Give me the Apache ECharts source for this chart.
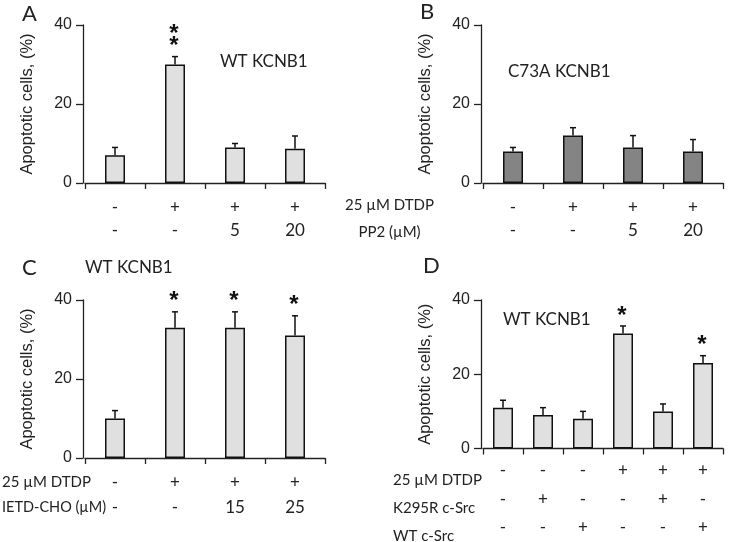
<!DOCTYPE html>
<html>
<head>
<meta charset="utf-8">
<script src="https://cdn.jsdelivr.net/npm/echarts@6/dist/echarts.min.js"></script>
<style>
  html, body { margin: 0; padding: 0; background: #fff; }
  #chart { width: 745px; height: 542px; }
</style>
</head>
<body>
<div id="chart"></div>
<script>
// values (mean, upper error, significance marks)
const aVal = [7, 30, 9, 8.7];
const aErr = [2, 2, 1, 3.2];
const aStars = ['', '**', '', ''];

const bVal = [8, 12, 9, 8];
const bErr = [1, 2, 3, 3];
const bStars = ['', '', '', ''];

const cVal = [10, 33, 33, 31];
const cErr = [2, 4, 4, 5];
const cStars = ['', '*', '*', '*'];

const dVal = [11, 9, 8, 31, 10, 23];
const dErr = [2, 2, 2, 2, 2, 2];
const dStars = ['', '', '', '*', '', '*'];

// treatment rows under each panel
const abDTDP = ['-', '+', '+', '+'];
const abPP2 = ['-', '-', '5', '20'];
const cDTDP = ['-', '+', '+', '+'];
const cIETD = ['-', '-', '15', '25'];
const dDTDP = ['-', '-', '-', '+', '+', '+'];
const dK295R = ['-', '+', '-', '-', '+', '-'];
const dWTSrc = ['-', '-', '+', '-', '-', '+'];

const yTicks = [0, 20, 40];
const yName = 'Apoptotic cells, (%)';

const TXT = '#222';
const LABEL_FONT = 'Lato';
const NUM_FONT = 'Liberation Sans';

const chart = echarts.init(document.getElementById('chart'));

const grids = [
  {left: 85, top: 25, width: 240, height: 158},
  {left: 483, top: 25, width: 240, height: 158},
  {left: 85, top: 300, width: 240, height: 158},
  {left: 483, top: 300, width: 240, height: 158},
];

const rowsOf = [
  [abDTDP, abPP2],
  [abDTDP, abPP2],
  [cDTDP, cIETD],
  [dDTDP, dK295R, dWTSrc],
];
const rowLH = [23, 23, 25, 28.5];
const rowMargin = [13, 13, 12, 8];

const xAxes = rowsOf.map((rows, k) => ({
  type: 'category',
  gridIndex: k,
  data: rows[0].map((_, i) => String(i)),
  boundaryGap: true,
  axisLine: {lineStyle: {color: TXT, width: 1.3}},
  axisTick: {show: true, length: 6, alignWithLabel: false, lineStyle: {color: TXT, width: 1.3}},
  axisLabel: {
    interval: 0,
    margin: rowMargin[k],
    color: TXT,
    fontFamily: LABEL_FONT,
    fontSize: 17,
    lineHeight: rowLH[k],
    formatter: (v, i) => rows.map(r => r[i]).join('\n')
  },
  splitLine: {show: false}
}));

const yAxes = grids.map((g, k) => ({
  type: 'value',
  gridIndex: k,
  min: yTicks[0],
  max: yTicks[yTicks.length - 1],
  interval: 20,
  offset: 2,
  name: yName,
  nameLocation: 'middle',
  nameGap: 47,
  nameTextStyle: {fontFamily: NUM_FONT, fontSize: 16.5, color: TXT},
  axisLine: {show: true, lineStyle: {color: TXT, width: 1.3}},
  axisTick: {show: true, length: 7, lineStyle: {color: TXT, width: 1.3}},
  axisLabel: {fontFamily: NUM_FONT, fontSize: 16, color: TXT, margin: 11},
  splitLine: {show: false}
}));

function barSeries(k, vals, fill) {
  return {
    type: 'bar',
    xAxisIndex: k,
    yAxisIndex: k,
    data: vals,
    barWidth: 20,
    itemStyle: {color: fill, borderColor: '#111', borderWidth: 1.5},
    silent: true,
    z: 2
  };
}

function errSeries(k, vals, errs, stars) {
  return {
    type: 'custom',
    xAxisIndex: k,
    yAxisIndex: k,
    data: vals.map((v, i) => [i, v, errs[i]]),
    silent: true,
    z: 3,
    renderItem: function (params, api) {
      const i = api.value(0);
      const base = api.coord([i, api.value(1)]);
      const top = api.coord([i, api.value(1) + api.value(2)]);
      const st = {stroke: '#111', lineWidth: 1.5};
      const children = [
        {type: 'line', shape: {x1: base[0], y1: base[1], x2: top[0], y2: top[1]}, style: st},
        {type: 'line', shape: {x1: top[0] - 3, y1: top[1], x2: top[0] + 3, y2: top[1]}, style: st}
      ];
      const s = stars[params.dataIndex] || '';
      for (let j = 0; j < s.length; j++) {
        children.push({
          type: 'text',
          style: {
            x: top[0] - 1, y: top[1] - 15 - j * 12 + 5,
            text: '*',
            font: 'bold 24px "Liberation Sans"',
            fill: '#111',
            align: 'center',
            verticalAlign: 'middle'
          }
        });
      }
      return {type: 'group', children: children};
    }
  };
}

function txt(x, y, text, size, align, font) {
  return {
    type: 'text',
    x: x, y: y,
    style: {
      text: text,
      fill: TXT,
      font: size + 'px "' + (font || LABEL_FONT) + '"',
      align: align || 'left',
      verticalAlign: 'middle'
    }
  };
}

const option = {
  animation: false,
  grid: grids,
  xAxis: xAxes,
  yAxis: yAxes,
  series: [
    barSeries(0, aVal, '#e0e0e0'), errSeries(0, aVal, aErr, aStars),
    barSeries(1, bVal, '#848484'), errSeries(1, bVal, bErr, bStars),
    barSeries(2, cVal, '#e0e0e0'), errSeries(2, cVal, cErr, cStars),
    barSeries(3, dVal, '#e0e0e0'), errSeries(3, dVal, dErr, dStars)
  ],
  graphic: [
    // panel letters
    txt(22, 14, 'A', 22),
    txt(420, 12, 'B', 22),
    txt(22, 268, 'C', 22),
    txt(423, 266, 'D', 22),
    // construct names
    txt(220, 62, 'WT KCNB1', 17),
    txt(508, 72, 'C73A KCNB1', 17),
    txt(85, 268, 'WT KCNB1', 17),
    txt(503, 320, 'WT KCNB1', 17),
    // treatment row headings
    txt(389.5, 205, '25 µM DTDP', 15, 'center'),
    txt(389.5, 232, 'PP2 (µM)', 15, 'center'),
    txt(2, 482, '25 µM DTDP', 15),
    txt(2, 507, 'IETD-CHO (µM)', 14.5),
    txt(393, 480, '25 µM DTDP', 15),
    txt(393, 508, 'K295R c-Src', 15),
    txt(393, 536, 'WT c-Src', 15)
  ]
};

chart.setOption(option);
</script>
</body>
</html>
